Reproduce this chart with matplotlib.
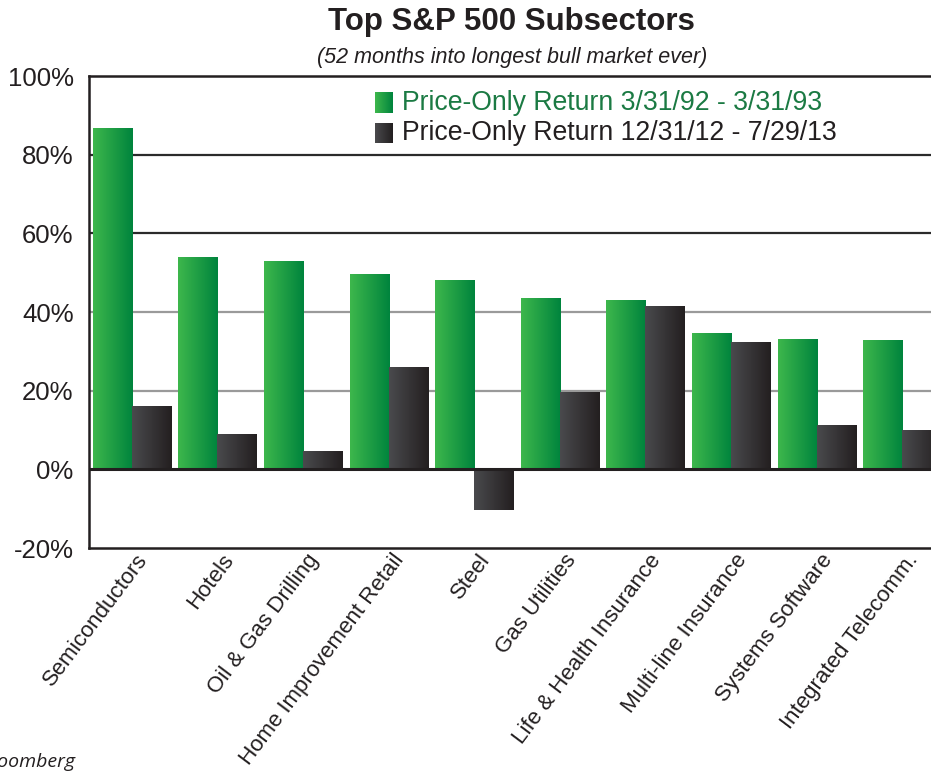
import numpy as np
import matplotlib
matplotlib.use("Agg")
import matplotlib.pyplot as plt
import matplotlib.transforms as mtransforms
from matplotlib.colors import LinearSegmentedColormap

categories = ["Semiconductors", "Hotels", "Oil & Gas Drilling", "Home Improvement Retail",
              "Steel", "Gas Utilities", "Life & Health Insurance", "Multi-line Insurance",
              "Systems Software", "Integrated Telecomm."]
ret_1992 = [86.6, 53.8, 52.8, 49.5, 47.9, 43.3, 42.8, 34.4, 32.8, 32.6]
ret_2013 = [15.9, 8.7, 4.4, 25.9, -10.3, 19.5, 41.3, 32.1, 11.0, 9.7]
series_labels = ["Price-Only Return 3/31/92 - 3/31/93", "Price-Only Return 12/31/12 - 7/29/13"]
y_ticks = [-20, 0, 20, 40, 60, 80, 100]

GREEN = ("#3db74c", "#00843d")
DARK = ("#4a4a4d", "#231f20")

plt.rcParams["font.family"] = ["Liberation Sans", "DejaVu Sans"]

W, H = 931, 771
fig = plt.figure(figsize=(W / 100, H / 100), dpi=100)

# axis box runs past the right edge of the picture, as in the original crop
ax = fig.add_axes([89 / W, 1 - 548 / H, 856 / W, (548 - 76) / H])


def gradient_cmap(cols):
    return LinearSegmentedColormap.from_list("g", list(cols))


grad = np.linspace(0, 1, 64).reshape(1, -1)


def paint_bars(bars, cols):
    cmap = gradient_cmap(cols)
    for p in bars.patches:
        x0, w = p.get_x(), p.get_width()
        y0, h = p.get_y(), p.get_height()
        ax.imshow(grad, cmap=cmap, aspect="auto", interpolation="bilinear",
                  extent=[x0, x0 + w, min(y0, y0 + h), max(y0, y0 + h)], zorder=3)


x = np.arange(len(categories))
bw = 0.456
b1 = ax.bar(x - bw / 2, ret_1992, bw, color=GREEN[1], zorder=2)
b2 = ax.bar(x + bw / 2, ret_2013, bw, color=DARK[1], zorder=2)
paint_bars(b1, GREEN)
paint_bars(b2, DARK)

# grid lines
for v, c in [(80, "#2b2b2b"), (60, "#2b2b2b"), (40, "#9a9a9a"), (20, "#9a9a9a")]:
    ax.axhline(v, color=c, lw=1.6, zorder=1)
ax.axhline(0, color="#231f20", lw=2.2, zorder=4)

ax.set_xlim(-0.5, 9.5)
ax.set_ylim(-20, 100)
ax.set_yticks(y_ticks)
ax.set_yticklabels([f"{v}%" for v in y_ticks], fontsize=18.5, color="#231f20")
ax.set_xticks(x)
ax.set_xticklabels(categories, rotation=53, ha="right", va="center",
                   rotation_mode="anchor", fontsize=16, color="#231f20")
ax.tick_params(axis="both", length=0)
ax.tick_params(axis="y", pad=11)
ax.tick_params(axis="x", pad=6)
shift = mtransforms.ScaledTranslation(12 / 100, 0, fig.dpi_scale_trans)
for lab in ax.get_xticklabels():
    lab.set_transform(lab.get_transform() + shift)
ax.spines["right"].set_visible(False)
for s in ["left", "top", "bottom"]:
    ax.spines[s].set_color("#231f20")
    ax.spines[s].set_linewidth(1.8)

# title and subtitle
fig.text(511 / W, 1 - 22 / H, "Top S&P 500 Subsectors", ha="center", va="center",
         fontsize=22.5, fontweight="bold", color="#231f20")
fig.text(512 / W, 1 - 57 / H, "(52 months into longest bull market ever)", ha="center",
         va="center", fontsize=15.5, style="italic", color="#231f20")

# legend drawn by hand (gradient swatches)
for i, (lab, cols, tc) in enumerate([(series_labels[0], GREEN, "#1b7a43"),
                                      (series_labels[1], DARK, "#231f20")]):
    top = 92 + i * 30.5
    sw = fig.add_axes([375 / W, 1 - (top + 21) / H, 18 / W, 21 / H])
    sw.imshow(grad, cmap=gradient_cmap(cols), aspect="auto", interpolation="bilinear")
    sw.axis("off")
    fig.text(402 / W, 1 - (top + 10.5) / H, lab, ha="left", va="center",
             fontsize=19.2, color=tc)

# source note, cropped at the left edge in the original
fig.text(75 / W, 4 / H, "Source: Bloomberg", ha="right", va="baseline",
         fontsize=14, style="italic", color="#231f20", family=["Open Sans", "DejaVu Sans"])

fig.savefig("out.png", dpi=100)
